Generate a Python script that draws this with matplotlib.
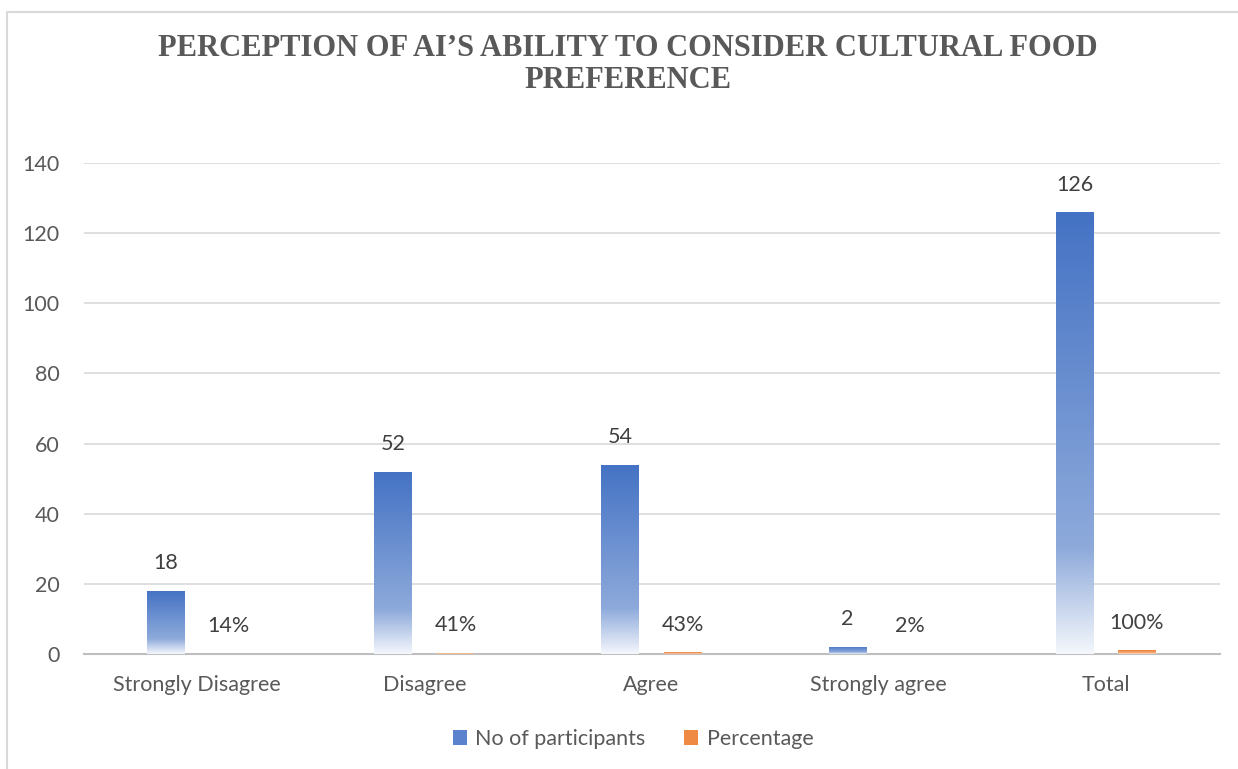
import numpy as np
import matplotlib
matplotlib.use('Agg')
import matplotlib.pyplot as plt
from matplotlib.colors import LinearSegmentedColormap
from matplotlib.patches import Rectangle

categories = ['Strongly Disagree', 'Disagree', 'Agree', 'Strongly agree', 'Total']
participants = [18, 52, 54, 2, 126]
percentage = [0.14, 0.41, 0.43, 0.02, 1.00]
pct_labels = ['14%', '41%', '43%', '2%', '100%']

plt.rcParams['font.family'] = ['Lato', 'DejaVu Sans']
fs = 15.5

blue_cmap = LinearSegmentedColormap.from_list(
    'blue_grad', [(0.0, '#f4f7fc'), (0.24, '#8eaadb'), (1.0, '#4472c4')])
orange_cmap = LinearSegmentedColormap.from_list(
    'orange_grad', [(0.0, '#fdf0e6'), (0.24, '#f4b183'), (1.0, '#ed7d31')])

fig = plt.figure(figsize=(12.38, 7.69), dpi=100)
ax = fig.add_axes([83.5 / 1238, 1 - 654 / 769, (1219.5 - 83.5) / 1238, (654 - 163) / 769])

x = np.arange(len(categories))
w = 0.167
off = 0.137
grad = np.linspace(0, 1, 256).reshape(-1, 1)


def grad_bar(xc, h, cmap):
    left = xc - w / 2
    im = ax.imshow(grad, cmap=cmap, origin='lower', aspect='auto',
                   extent=[left, left + w, 0, h], zorder=3, interpolation='bilinear')
    rect = Rectangle((left, 0), w, h, transform=ax.transData, facecolor='none', edgecolor='none')
    ax.add_patch(rect)
    im.set_clip_path(rect)


for i in range(len(categories)):
    grad_bar(x[i] - off, participants[i], blue_cmap)
    grad_bar(x[i] + off, percentage[i], orange_cmap)
    ax.text(x[i] - off, participants[i] + 5, str(participants[i]), ha='center', va='bottom',
            fontsize=fs, color='#404040')
    ax.text(x[i] + off, percentage[i] + 5, pct_labels[i], ha='center', va='bottom',
            fontsize=fs, color='#404040')

ax.set_xlim(-0.5, len(categories) - 0.5)
ax.set_ylim(0, 140)
ax.set_yticks(range(0, 141, 20))
ax.set_xticks(x)
ax.set_xticklabels(categories)
ax.tick_params(axis='both', length=0, labelsize=fs, colors='#595959')
ax.tick_params(axis='y', pad=17)
ax.tick_params(axis='x', pad=15)
ax.grid(axis='y', color='#d9d9d9', linewidth=1.2, zorder=0)
ax.set_axisbelow(True)
for s in ['top', 'right', 'left']:
    ax.spines[s].set_visible(False)
ax.spines['bottom'].set_color('#bfbfbf')
ax.spines['bottom'].set_linewidth(1.5)

# legend
h1 = Rectangle((0, 0), 1, 1, facecolor='#5b82cc', edgecolor='none')
h2 = Rectangle((0, 0), 1, 1, facecolor='#ef8a45', edgecolor='none')
fig.legend([h1, h2], ['No of participants', 'Percentage'], loc='center',
           bbox_to_anchor=(633 / 1238, 1 - 739 / 769), ncol=2, frameon=False,
           fontsize=fs, labelcolor='#595959', handlelength=0.65, handleheight=0.65,
           columnspacing=1.8, handletextpad=0.4)

# title
fig.text(628 / 1238, 1 - 48 / 769, 'PERCEPTION OF AI\u2019S ABILITY TO CONSIDER CULTURAL FOOD',
         ha='center', va='center', family='Liberation Serif', fontweight='bold',
         fontsize=22, color='#595959')
fig.text(628 / 1238, 1 - 80 / 769, 'PREFERENCE',
         ha='center', va='center', family='Liberation Serif', fontweight='bold',
         fontsize=22, color='#595959')

# chart border
fig.add_artist(plt.Line2D([7 / 1238, 7 / 1238, 1.0], [0.0, 1 - 12 / 769, 1 - 12 / 769],
                          transform=fig.transFigure, color='#d9d9d9', linewidth=1.5))

fig.savefig('out.png', dpi=100)
